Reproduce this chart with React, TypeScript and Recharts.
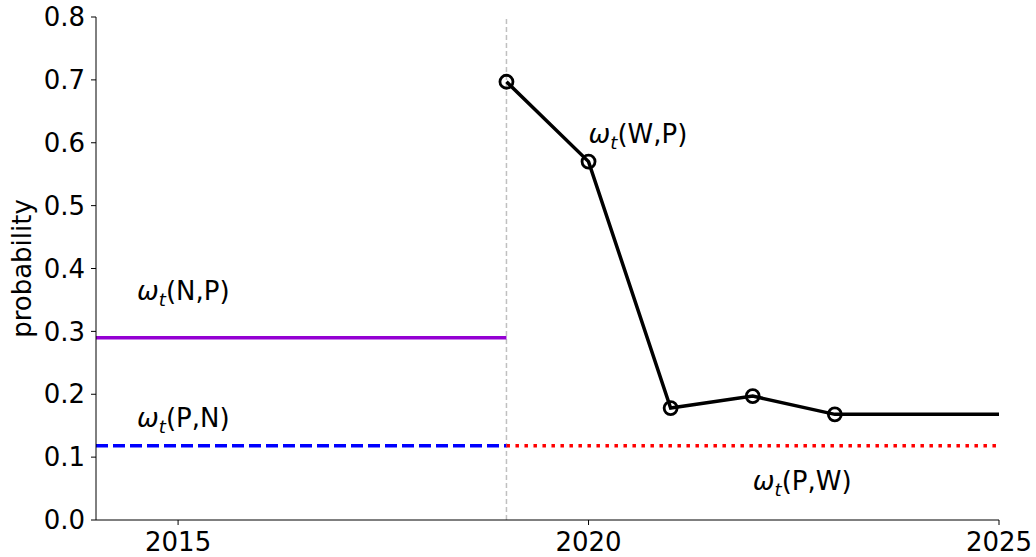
import React from 'react';
import { LineChart, Line, XAxis, YAxis, ReferenceLine, ReferenceDot } from 'recharts';

const years = [2019, 2020, 2021, 2022, 2023, 2025];
const wpValues = [0.697, 0.57, 0.178, 0.197, 0.168, 0.168];
const npValue = 0.29;
const pnValue = 0.118;
const pwValue = 0.118;
const xTicks = [2015, 2020, 2025];
const yTicks = [0, 0.1, 0.2, 0.3, 0.4, 0.5, 0.6, 0.7, 0.8];
const switchYear = 2019;

const npData = [{ x: 2014, y: npValue }, { x: switchYear, y: npValue }];
const pnData = [{ x: 2014, y: pnValue }, { x: switchYear, y: pnValue }];
const pwData = [{ x: switchYear, y: pwValue }, { x: 2025, y: pwValue }];
const wpData = years.map((x, i) => ({ x, y: wpValues[i] }));

const labels = [
  { x: 2014.5, y: 0.35, pair: 'N,P' },
  { x: 2014.5, y: 0.148, pair: 'P,N' },
  { x: 2020.0, y: 0.6, pair: 'W,P' },
  { x: 2022.0, y: 0.048, pair: 'P,W' },
];

const FONT = 'DejaVu Sans';
const FS = 26;

const OmegaLabel = (pair: string) => (p: any) => (
  <text x={p.cx} y={p.cy} fontFamily={FONT} fontSize={FS} fill="#000">
    <tspan fontStyle="italic">ω</tspan>
    <tspan fontStyle="italic" fontSize={FS * 0.7} dy={6}>t</tspan>
    <tspan dy={-6}>({pair})</tspan>
  </text>
);

const WpDot = (props: any) => {
  const { cx, cy, payload, index } = props;
  if (payload.x > 2023) return <g key={`d-${index}`} />;
  return <circle key={`d-${index}`} cx={cx} cy={cy} r={6.5} fill="none" stroke="#000" strokeWidth={2.8} />;
};

const App: React.FC = () => {
  return (
    <div style={{ position: 'fixed', top: 0, left: 0, background: '#fff' }}>
      <LineChart width={1036} height={557} margin={{ top: 17, right: 37, bottom: 0, left: 0 }}>
        <XAxis
          dataKey="x"
          type="number"
          domain={[2014, 2025]}
          ticks={xTicks}
          allowDataOverflow
          height={37}
          stroke="#000"
          tickSize={5}
          tickMargin={8}
          tick={{ fill: '#000', fontSize: FS, fontFamily: FONT }}
        />
        <YAxis
          dataKey="y"
          type="number"
          domain={[0, 0.8]}
          ticks={yTicks}
          width={96}
          stroke="#000"
          tickSize={5}
          tickMargin={6}
          tickFormatter={(v: number) => v.toFixed(1)}
          tick={{ fill: '#000', fontSize: FS, fontFamily: FONT }}
          label={{
            content: (p: any) => {
              const vb = p.viewBox;
              const cx = vb.x + 22;
              const cy = vb.y + vb.height / 2;
              return (
                <text x={cx} y={cy} transform={`rotate(-90 ${cx} ${cy})`} textAnchor="middle" dominantBaseline="central" fontFamily={FONT} fontSize={FS} fill="#000">
                  probability
                </text>
              );
            },
          }}
        />
        <ReferenceLine x={switchYear} stroke="#c0c0c0" strokeWidth={1.5} strokeDasharray="5 3" />
        <Line data={npData} dataKey="y" stroke="#9400d3" strokeWidth={3.5} dot={false} isAnimationActive={false} />
        <Line data={pnData} dataKey="y" stroke="#0000ff" strokeWidth={3.5} strokeDasharray="12 5" dot={false} isAnimationActive={false} />
        <Line data={pwData} dataKey="y" stroke="#ff0000" strokeWidth={3.5} strokeDasharray="3.5 5.5" dot={false} isAnimationActive={false} />
        <Line data={wpData} dataKey="y" stroke="#000" strokeWidth={3.5} dot={WpDot} isAnimationActive={false} />
        {labels.map((l) => (
          <ReferenceDot key={l.pair} x={l.x} y={l.y} r={0} shape={OmegaLabel(l.pair)} />
        ))}
      </LineChart>
    </div>
  );
};

export default App;
